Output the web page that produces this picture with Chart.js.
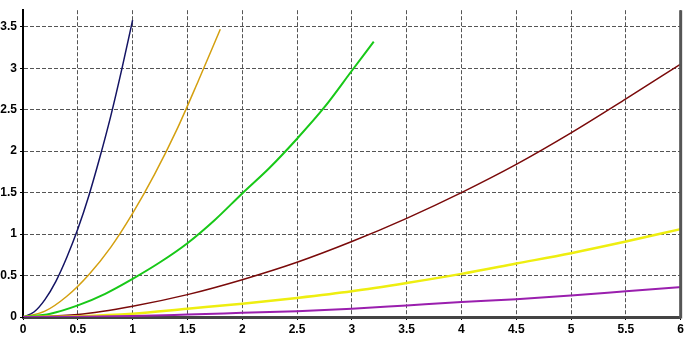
<!DOCTYPE html>
<html>
<head>
<meta charset="utf-8">
<script src="https://cdn.jsdelivr.net/npm/chart.js@4/dist/chart.umd.min.js"></script>
<style>
  html, body { margin: 0; padding: 0; background: #fff; }
  #wrap { width: 686px; height: 342px; position: relative; }
</style>
</head>
<body>
<div id="wrap"><canvas id="c"></canvas></div>
<script>
// curve samples (x, y)
const navyX   = [0, 0.1, 0.2, 0.3, 0.4, 0.5, 0.6, 0.7, 0.8, 0.9, 1.0];
const navyY   = [0, 0.06, 0.21, 0.43, 0.72, 1.06, 1.46, 1.92, 2.42, 2.98, 3.58];
const goldX   = [0, 0.2, 0.4, 0.6, 0.8, 1.0, 1.2, 1.4, 1.6, 1.8];
const goldY   = [0, 0.07, 0.25, 0.51, 0.84, 1.25, 1.72, 2.25, 2.85, 3.47];
const greenX  = [0, 0.25, 0.5, 0.75, 1, 1.25, 1.5, 1.75, 2, 2.25, 2.5, 2.75, 3, 3.2];
const greenY  = [0, 0.04, 0.14, 0.28, 0.46, 0.66, 0.89, 1.17, 1.49, 1.80, 2.15, 2.53, 2.97, 3.32];
const redX    = [0, 0.5, 1, 1.5, 2, 2.5, 3, 3.5, 4, 4.5, 5, 5.5, 6];
const redY    = [0, 0.03, 0.13, 0.27, 0.45, 0.66, 0.91, 1.19, 1.50, 1.84, 2.22, 2.63, 3.05];
const yellowX = [0, 0.5, 1, 1.5, 2, 2.5, 3, 3.5, 4, 4.5, 5, 5.5, 6];
const yellowY = [0, 0.01, 0.04, 0.10, 0.16, 0.23, 0.31, 0.41, 0.52, 0.645, 0.77, 0.91, 1.06];
const purpleX = [0, 0.5, 1, 1.5, 2, 2.5, 3, 3.5, 4, 4.5, 5, 5.5, 6];
const purpleY = [0, 0.003, 0.012, 0.03, 0.05, 0.07, 0.10, 0.14, 0.18, 0.215, 0.26, 0.31, 0.36];

const pts = (xs, ys) => xs.map((x, i) => ({ x, y: ys[i] }));
const series = (xs, ys, color, w) => ({
  data: pts(xs, ys), borderColor: color, borderWidth: w,
  pointRadius: 0, fill: false, tension: 0.4, cubicInterpolationMode: 'monotone'
});

// frame on the right side of the plot
const rightFrame = {
  id: 'rightFrame',
  afterDraw(chart) {
    const { ctx, chartArea: a } = chart;
    ctx.save();
    ctx.strokeStyle = '#555';
    ctx.lineWidth = 3;
    ctx.beginPath();
    ctx.moveTo(a.right, a.top);
    ctx.lineTo(a.right, a.bottom + 1.5);
    ctx.stroke();
    ctx.restore();
  }
};

const tickFont = { family: 'Arial, "Liberation Sans", sans-serif', size: 12, weight: 'bold' };
const fmt = v => String(Number(v));

new Chart(document.getElementById('c'), {
  type: 'line',
  data: {
    datasets: [
      series(purpleX, purpleY, '#9a1fae', 2),
      series(yellowX, yellowY, '#eeee10', 2.5),
      series(redX, redY, '#7a0a0a', 1.5),
      series(greenX, greenY, '#18c818', 2),
      series(goldX, goldY, '#d4a010', 1.5),
      series(navyX, navyY, '#141464', 1.5),
    ]
  },
  options: {
    responsive: true, maintainAspectRatio: false, animation: false,
    layout: { padding: { left: 0, right: 5, top: 0, bottom: 0 } },
    plugins: { legend: { display: false }, tooltip: { enabled: false } },
    scales: {
      x: {
        type: 'linear', min: 0, max: 6,
        afterFit: s => { s.height = 25; },
        ticks: { stepSize: 0.5, color: '#000', font: tickFont, padding: 2, maxRotation: 0, autoSkip: false, callback: fmt },
        grid: { color: '#555', lineWidth: 1, drawTicks: true, tickLength: 3, tickColor: '#000' },
        border: { display: true, color: '#444', width: 3, dash: [4, 2] }
      },
      y: {
        type: 'linear', min: 0, max: 3.7,
        afterFit: s => { s.width = 23; },
        ticks: { stepSize: 0.5, includeBounds: false, color: '#000', font: tickFont, padding: 3, callback: fmt },
        grid: { color: '#555', lineWidth: 1, drawTicks: true, tickLength: 3, tickColor: '#000' },
        border: { display: true, color: '#000', width: 2, dash: [4, 2] }
      }
    }
  },
  plugins: [rightFrame]
});
</script>
</body>
</html>
